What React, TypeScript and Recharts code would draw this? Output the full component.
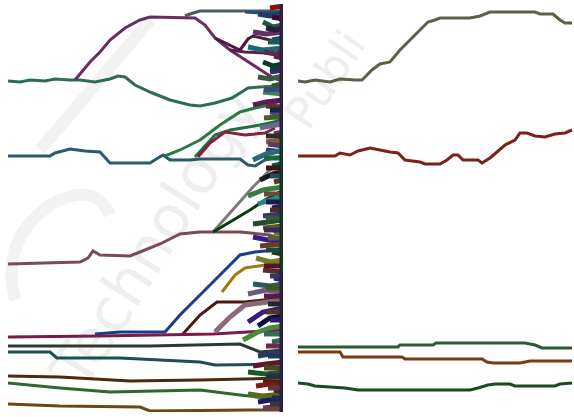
import React from 'react';
import { LineChart, Line, XAxis, YAxis } from 'recharts';

type Pt = [number, number];

// ---------- Left panel series (t = step, v = value) ----------
const green1: Pt[] = [[0,331],[12,330],[22,332],[37,331],[47,333],[62,332],[72,332],[87,330],[102,333],[110,336],[117,335],[127,327],[142,320],[162,312],[182,307],[192,306],[207,309],[224,314],[240,324],[252,325],[267,326],[275,324]];
const purple1: Pt[] = [[67,332],[82,350],[92,360],[102,372],[117,384],[132,392],[142,395],[187,394],[197,387],[207,374],[222,362],[242,349],[262,336],[275,330]];
const purple2: Pt[] = [[207,374],[232,362],[240,373],[245,376],[262,372],[275,368]];
const purple3: Pt[] = [[222,362],[237,360],[259,359],[275,356]];
const slate1: Pt[] = [[177,396],[182,398],[192,401],[237,401],[275,401]];
const blue0: Pt[] = [[237,400],[252,399],[275,400]];
const teal1: Pt[] = [[0,256],[42,256],[47,259],[62,263],[77,261],[92,260],[102,249],[122,249],[142,249],[150,254],[155,257],[162,252],[182,252],[192,253],[232,253],[240,247],[247,246],[257,252],[275,256]];
const green2: Pt[] = [[157,256],[172,262],[192,272],[212,287],[232,300],[247,304],[262,307],[275,312]];
const green3: Pt[] = [[187,255],[207,277],[222,282],[252,287],[275,292]];
const crimson1: Pt[] = [[190,255],[202,269],[217,280],[237,277],[257,279],[267,284]];
const mauve1: Pt[] = [[0,148],[72,150],[80,154],[85,161],[92,157],[122,156],[132,160],[152,168],[172,178],[192,180],[232,180],[262,177],[275,172]];
const gray1: Pt[] = [[205,180],[245,225],[262,242],[275,252]];
const darkGreen1: Pt[] = [[205,180],[222,190],[242,202],[257,212],[275,222]];
const blue1: Pt[] = [[87,78],[112,80],[157,80],[172,97],[192,117],[212,137],[232,157],[247,160],[267,162],[275,164]];
const brown1: Pt[] = [[174,77],[192,97],[209,110],[237,110],[275,114]];
const gold1: Pt[] = [[214,120],[227,137],[237,144],[257,147],[275,150]];
const maroon1: Pt[] = [[0,75],[92,76],[205,78],[275,82]];
const slateGreen1: Pt[] = [[0,66],[142,66],[232,68],[252,60],[275,62]];
const teal2: Pt[] = [[0,60],[42,60],[49,54],[112,54],[192,50],[207,47],[275,48]];
const brown2: Pt[] = [[0,36],[52,35],[122,31],[192,32],[275,34]];
const green4: Pt[] = [[0,29],[52,24],[102,20],[192,22],[232,17],[275,12]];
const olive1: Pt[] = [[0,8],[52,6],[132,5],[142,1],[242,2],[275,2]];

// converging short series near the end of the left panel
const m1: Pt[] = [[262,404],[275,406]];
const m2: Pt[] = [[250,398],[262,396],[275,398]];
const m3: Pt[] = [[255,390],[265,385],[275,387]];
const m4: Pt[] = [[245,380],[258,378],[275,380]];
const m5: Pt[] = [[240,365],[255,362],[275,364]];
const m6: Pt[] = [[255,350],[265,346],[275,348]];
const m7: Pt[] = [[262,340],[275,342]];
const m8: Pt[] = [[250,335],[262,333],[275,336]];
const m9: Pt[] = [[245,307],[258,310],[275,312]];
const m10: Pt[] = [[255,320],[275,318]];
const m11: Pt[] = [[252,284],[262,286],[275,288]];
const m12: Pt[] = [[258,270],[275,272]];
const m13: Pt[] = [[258,262],[275,260]];
const m14: Pt[] = [[245,252],[258,258],[275,262]];
const m15: Pt[] = [[252,232],[265,238],[275,240]];
const m16: Pt[] = [[240,216],[255,222],[275,225]];
const m17: Pt[] = [[250,208],[262,212],[275,214]];
const m18: Pt[] = [[255,196],[275,198]];
const m19: Pt[] = [[245,188],[260,190],[275,192]];
const m20: Pt[] = [[255,184],[275,186]];
const m21: Pt[] = [[245,175],[260,172],[275,170]];
const m22: Pt[] = [[252,166],[275,168]];
const m23: Pt[] = [[248,154],[262,150],[275,152]];
const m24: Pt[] = [[255,142],[275,140]];
const m25: Pt[] = [[245,128],[262,126],[275,128]];
const m26: Pt[] = [[240,118],[258,122],[275,120]];
const m27: Pt[] = [[207,80],[222,95],[237,107],[260,110],[275,112]];
const m28: Pt[] = [[240,90],[255,100],[275,104]];
const m29: Pt[] = [[250,86],[262,94],[275,96]];
const m30: Pt[] = [[235,72],[250,80],[262,84],[275,86]];
const m31: Pt[] = [[250,56],[262,58],[275,62]];
const m32: Pt[] = [[245,46],[258,48],[275,50]];
const m33: Pt[] = [[240,40],[258,38],[275,40]];
const m34: Pt[] = [[255,30],[275,30]];
const m35: Pt[] = [[248,26],[262,28],[275,26]];
const m36: Pt[] = [[240,18],[255,16],[275,18]];
const m37: Pt[] = [[250,10],[262,12],[275,10]];
const m38: Pt[] = [[255,4],[275,6]];
const m39: Pt[] = [[264,395],[275,393]];
const m40: Pt[] = [[264,372],[275,374]];
const m41: Pt[] = [[266,356],[275,354]];
const m42: Pt[] = [[264,326],[275,328]];
const m43: Pt[] = [[262,300],[275,298]];
const m44: Pt[] = [[266,278],[275,280]];
const m45: Pt[] = [[264,246],[275,248]];
const m46: Pt[] = [[266,230],[275,232]];
const m47: Pt[] = [[264,204],[275,206]];
const m48: Pt[] = [[266,180],[275,178]];
const m49: Pt[] = [[264,160],[275,158]];
const m50: Pt[] = [[266,134],[275,132]];
const m51: Pt[] = [[264,70],[275,72]];
const m52: Pt[] = [[266,22],[275,20]];
const m53: Pt[] = [[264,14],[275,14]];
const m54: Pt[] = [[258,384],[268,382],[275,384]];
const m55: Pt[] = [[260,370],[275,370]];
const m56: Pt[] = [[256,360],[268,358],[275,360]];
const m57: Pt[] = [[262,344],[275,344]];
const m58: Pt[] = [[256,322],[268,323],[275,322]];
const m59: Pt[] = [[258,306],[275,305]];
const m60: Pt[] = [[262,302],[275,302]];
const m61: Pt[] = [[256,294],[268,295],[275,294]];
const m62: Pt[] = [[258,276],[275,276]];
const m63: Pt[] = [[260,268],[275,266]];
const m64: Pt[] = [[256,254],[275,254]];
const m65: Pt[] = [[258,244],[275,244]];
const m66: Pt[] = [[262,236],[275,236]];
const m67: Pt[] = [[256,218],[275,218]];
const m68: Pt[] = [[258,210],[275,210]];
const m69: Pt[] = [[262,202],[275,202]];
const m70: Pt[] = [[258,194],[275,194]];
const m71: Pt[] = [[256,182],[275,182]];
const m72: Pt[] = [[260,174],[275,174]];
const m73: Pt[] = [[258,162],[275,162]];
const m74: Pt[] = [[256,146],[275,146]];
const m75: Pt[] = [[262,136],[275,136]];
const m76: Pt[] = [[258,124],[275,124]];
const m77: Pt[] = [[256,116],[275,116]];
const m78: Pt[] = [[260,108],[275,108]];
const m79: Pt[] = [[258,100],[275,100]];
const m80: Pt[] = [[262,92],[275,92]];
const m81: Pt[] = [[256,78],[275,78]];
const m82: Pt[] = [[258,66],[275,66]];
const m83: Pt[] = [[260,56],[275,56]];
const m84: Pt[] = [[256,44],[275,44]];
const m85: Pt[] = [[258,36],[275,36]];
const m86: Pt[] = [[260,24],[275,24]];
const m87: Pt[] = [[262,8],[275,8]];
const edge1: Pt[] = [[274,0],[274,140]];
const edge2: Pt[] = [[274,140],[274,280]];
const edge3: Pt[] = [[274,280],[274,408]];

const mainLeft: Pt[][] = [
  green1, purple1, purple2, purple3, slate1, blue0, teal1, green2, green3, crimson1,
  mauve1, gray1, darkGreen1, blue1, brown1, gold1, maroon1, slateGreen1, teal2, brown2, green4, olive1,
];
const messLeft: Pt[][] = [
  m1, m2, m3, m4, m5, m6, m7, m8, m9, m10, m11, m12, m13, m14, m15, m16, m17, m18, m19, m20,
  m21, m22, m23, m24, m25, m26, m27, m28, m29, m30, m31, m32, m33, m34, m35, m36, m37, m38,
  m39, m40, m41, m42, m43, m44, m45, m46, m47, m48, m49, m50, m51, m52, m53,
  m54, m55, m56, m57, m58, m59, m60, m61, m62, m63, m64, m65, m66, m67, m68, m69, m70,
  m71, m72, m73, m74, m75, m76, m77, m78, m79, m80, m81, m82, m83, m84, m85, m86, m87,
  edge1, edge2, edge3,
];
const mainLeftColors: string[] = [
  '#2d6e50', '#6b2c5e', '#4a1a40', '#5a2048', '#4b5c63', '#2a4a7a', '#2b5b6b', '#2a7a48', '#1e7040', '#8a2040',
  '#7a4a55', '#7a7a7a', '#0a3a10', '#1a3c8c', '#4a1a10', '#a07a10', '#7a1a4a', '#2a3a30', '#1d4f50', '#4a2a10', '#2a6a2a', '#6a4a10',
];
const messLeftColors: string[] = [
  '#8a1010', '#203a6a', '#1a5a4a', '#603060', '#1a6a70', '#0a3a2a', '#2a2a80', '#3a5a3a', '#5a1a5a', '#4a7a5a', '#6a6a8a', '#8a5a3a', '#3a3a6a', '#2a6a7a',
  '#1a1a1a', '#3a7a3a', '#1a8a8a', '#4a2a6a', '#2a4a2a', '#5a5a1a', '#3a1a8a', '#6a3a2a', '#7a7a2a', '#5a2a2a', '#2a5a5a', '#6a5a7a', '#8a6a7a', '#3a1a7a',
  '#0a0a3a', '#4a8a3a', '#2a3a5a', '#5a1a2a', '#1a5a2a', '#3a2a0a', '#7a1a1a', '#5a6a1a', '#1a1a6a', '#6a3a6a',
  '#3a0a2a', '#1a4a6a', '#6a1a3a', '#2a5a2a', '#4a4a8a', '#7a2a5a', '#0a4a4a', '#5a3a1a', '#2a1a5a', '#6a6a2a', '#1a3a1a', '#4a1a6a', '#2a6a4a', '#5a1a1a', '#1a2a5a',
  '#2a1a3a', '#1a5a5a', '#5a2a4a', '#1a3a2a', '#3a4a7a', '#6a2a2a', '#0a2a4a', '#4a5a2a', '#2a2a2a', '#5a3a6a', '#1a6a3a', '#3a1a1a', '#2a4a5a', '#6a4a3a', '#1a1a4a', '#4a2a2a', '#2a5a3a',
  '#3a2a5a', '#5a5a3a', '#1a4a3a', '#4a1a2a', '#2a3a6a', '#3a5a1a', '#5a1a4a', '#1a2a2a', '#4a3a1a', '#2a1a6a', '#3a6a5a', '#6a2a4a', '#1a3a5a', '#4a4a1a', '#2a2a4a', '#5a3a3a', '#3a3a2a',
  '#2a2040', '#1a3028', '#302040',
];

// ---------- Right panel series ----------
const rOlive: Pt[] = [[0,331],[7,330],[17,332],[32,330],[42,333],[57,332],[64,332],[74,342],[82,348],[92,350],[102,362],[117,377],[130,390],[137,392],[142,394],[172,394],[182,396],[192,400],[237,400],[242,398],[255,398],[262,392],[267,389],[274,389]];
const rRed: Pt[] = [[0,256],[37,256],[42,259],[52,257],[60,261],[72,264],[82,262],[92,260],[100,259],[107,252],[122,250],[127,248],[142,248],[149,252],[155,257],[160,257],[165,252],[180,252],[184,249],[192,254],[207,267],[217,272],[222,279],[229,279],[237,276],[247,275],[257,278],[267,279],[274,282]];
const rGreen: Pt[] = [[0,65],[100,65],[102,67],[135,67],[138,69],[227,69],[237,67],[244,64],[274,64]];
const rBrown: Pt[] = [[0,60],[42,60],[45,55],[104,55],[107,53],[184,53],[189,50],[195,49],[222,49],[232,51],[274,51]];
const rDarkGreen: Pt[] = [[0,29],[10,28],[17,26],[32,25],[47,24],[60,22],[172,22],[180,24],[190,27],[197,28],[212,28],[217,26],[257,26],[262,28],[274,29]];

const rightSeries: Pt[][] = [rOlive, rRed, rGreen, rBrown, rDarkGreen];
const rightColors: string[] = ['#5b6147', '#7c2119', '#2d5a35', '#7a3a12', '#1a4a1e'];

const T_DOMAIN: [number, number] = [0, 275];
const V_DOMAIN: [number, number] = [0, 408];

function renderLines(series: Pt[][], colors: string[], width: number, prefix: string) {
  return series.map((pts, i) => (
    <Line
      key={prefix + i}
      data={pts.map(([t, v]) => ({ t, v }))}
      dataKey="v"
      type="linear"
      stroke={colors[i % colors.length]}
      strokeWidth={width}
      dot={false}
      activeDot={false}
      isAnimationActive={false}
      strokeLinejoin="miter"
      strokeLinecap="butt"
    />
  ));
}

function Panel({ children }: { children: React.ReactNode }) {
  return (
    <LineChart width={275} height={408} margin={{ top: 0, right: 0, bottom: 0, left: 0 }}>
      <XAxis type="number" dataKey="t" domain={T_DOMAIN} hide />
      <YAxis type="number" dataKey="v" domain={V_DOMAIN} hide />
      {children}
    </LineChart>
  );
}

export default function App() {
  return (
    <div style={{ position: 'absolute', left: 0, top: 0, width: 574, height: 417, background: '#ffffff', overflow: 'hidden' }}>
      <svg width={574} height={417} style={{ position: 'absolute', left: 0, top: 0 }}>
        <g fill="none" stroke="#f2f2f2" strokeWidth={12}>
          <path d="M15 300 Q0 240 50 205 Q95 180 110 215" />
          <path d="M40 150 L150 20" />
        </g>
        <text x={0} y={0} transform="translate(84 392) rotate(-58)" fontFamily="DejaVu Sans" fontSize={60} fill="#eeeeee">Technology</text>
        <text x={0} y={0} transform="translate(308 132) rotate(-56)" fontFamily="DejaVu Sans" fontSize={44} fill="#eeeeee">Publi</text>
      </svg>
      <div style={{ position: 'absolute', left: 8, top: 4 }}>
        <Panel>
          {renderLines(mainLeft, mainLeftColors, 3, 'a')}
          {renderLines(messLeft, messLeftColors, 5, 'b')}
        </Panel>
      </div>
      <div style={{ position: 'absolute', left: 298, top: 4 }}>
        <Panel>{renderLines(rightSeries, rightColors, 3, 'c')}</Panel>
      </div>
    </div>
  );
}
